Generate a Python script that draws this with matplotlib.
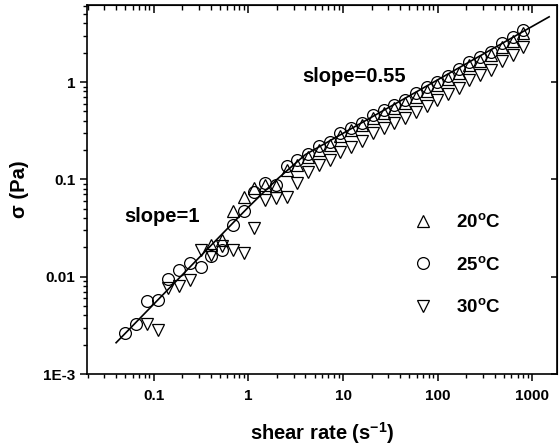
import matplotlib
matplotlib.use('Agg')
import matplotlib.pyplot as plt

plt.rcParams['font.family'] = ['Liberation Sans', 'DejaVu Sans']
plt.rcParams['font.weight'] = 'bold'
plt.rcParams['mathtext.fontset'] = 'custom'
plt.rcParams['mathtext.rm'] = 'Liberation Sans:bold'
plt.rcParams['mathtext.bf'] = 'Liberation Sans:bold'
plt.rcParams['mathtext.it'] = 'Liberation Sans:bold:italic'

# shear rates (1/s), shared by all temperatures
shear_rate = [0.05, 0.065, 0.084, 0.11, 0.142, 0.185, 0.24, 0.312, 0.405, 0.527,
              0.684, 0.889, 1.15, 1.5, 1.95, 2.53, 3.29, 4.27, 5.55, 7.21,
              9.36, 12.2, 15.8, 20.5, 26.7, 34.6, 45, 58.5, 76, 98.7,
              128, 166, 216, 281, 365, 474, 616, 800]

# 25 C, full range
stress_25 = [0.00267, 0.0033, 0.00567, 0.00581, 0.00942, 0.0117, 0.0139, 0.0125, 0.0164, 0.0189,
             0.0341, 0.0468, 0.075, 0.0914, 0.0878, 0.136, 0.158, 0.183, 0.218, 0.244,
             0.298, 0.341, 0.384, 0.459, 0.516, 0.581, 0.653, 0.766, 0.883, 1.007,
             1.153, 1.349, 1.615, 1.792, 2.046, 2.53, 2.92, 3.41]

# 20 C, starts at shear_rate[8]
stress_20 = [0.0213, 0.0239, 0.0468, 0.0654, 0.0809, 0.088, 0.085, 0.125, 0.141, 0.17,
             0.201, 0.226, 0.276, 0.318, 0.358, 0.427, 0.481, 0.541, 0.609, 0.71,
             0.818, 0.932, 1.073, 1.25, 1.49, 1.66, 1.89, 2.28, 2.63, 3.18]

# 30 C, starts at shear_rate[2]
stress_30 = [0.0033, 0.00286, 0.00766, 0.0081, 0.0093, 0.0189, 0.0168, 0.0205, 0.0189, 0.0175,
             0.0316, 0.0616, 0.0641, 0.0657, 0.0914, 0.12, 0.141, 0.158, 0.191, 0.216,
             0.248, 0.3, 0.337, 0.38, 0.427, 0.498, 0.574, 0.653, 0.753, 0.879,
             1.05, 1.17, 1.33, 1.64, 1.89, 2.28]

# fitted power-law line (slope 1 -> slope 0.55)
fit_x = [0.04, 1.0, 2.0, 4.0, 1500]
fit_y = [0.0021, 0.052, 0.10, 0.18, 4.68]

fig = plt.figure(figsize=(5.59, 4.48), dpi=100)
ax = fig.add_axes([0.1556, 0.165, 0.8414, 0.824])

mk = dict(linestyle='none', markersize=8.5, markerfacecolor='none',
          markeredgecolor='black', markeredgewidth=0.9)
ax.plot(shear_rate[8:], stress_20, marker='^', label='20$^\\mathrm{o}$C', **mk)
ax.plot(shear_rate, stress_25, marker='o', label='25$^\\mathrm{o}$C', **mk)
ax.plot(shear_rate[2:], stress_30, marker='v', label='30$^\\mathrm{o}$C', **mk)
ax.plot(fit_x, fit_y, color='black', linewidth=1.2)

ax.set_xscale('log')
ax.set_yscale('log')
ax.set_xlim(0.0197, 1830)
ax.set_ylim(1e-3, 6.2)

ax.set_xticks([0.1, 1, 10, 100, 1000], ['0.1', '1', '10', '100', '1000'])
ax.set_yticks([1e-3, 0.01, 0.1, 1], ['1E-3', '0.01', '0.1', '1'])
ax.tick_params(which='major', direction='out', length=5, width=1.1, labelsize=11)
ax.tick_params(which='minor', direction='out', length=3, width=1.0)
ax.tick_params(axis='x', pad=6)

top = ax.secondary_xaxis('top')
top.set_xticks([0.1, 1, 10, 100, 1000], [])
top.tick_params(which='major', direction='in', length=6, width=1.1)
top.tick_params(which='minor', direction='in', length=3.5, width=1.0)
right = ax.secondary_yaxis('right')
right.set_yticks([1e-3, 0.01, 0.1, 1], [])
right.tick_params(which='major', direction='in', length=4, width=1.1)
right.tick_params(which='minor', length=0)

for sp in ax.spines.values():
    sp.set_linewidth(1.2)

ax.set_xlabel('shear rate (s$^\\mathrm{-1}$)', fontsize=14.5, fontweight='bold', labelpad=12)
ax.set_ylabel('\u03c3 (Pa)', fontsize=14.5, fontweight='bold', labelpad=10)

ax.text(0.121, 0.0412, 'slope=1', fontsize=14.5, fontweight='bold', ha='center', va='center')
ax.text(13.06, 1.15, 'slope=0.55', fontsize=14.5, fontweight='bold', ha='center', va='center')

ax.legend(loc='upper left', bbox_to_anchor=(0.674, 0.461), frameon=False, fontsize=13.5,
          handlelength=1.0, handletextpad=1.3, labelspacing=1.31, borderpad=0)

fig.savefig('out.png', dpi=100)
